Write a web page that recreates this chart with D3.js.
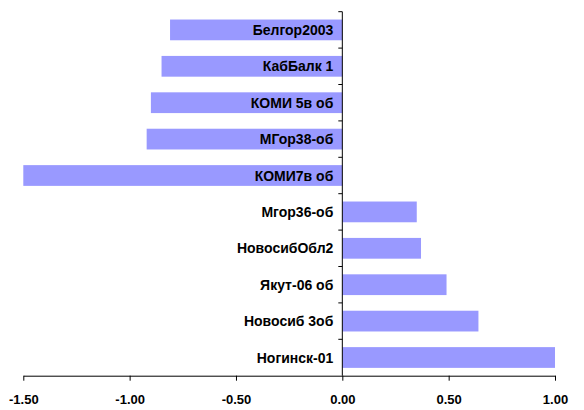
<!DOCTYPE html>
<html>
<meta charset="utf-8">
<head>
    <title>Bar chart</title>
</head>
<style>
    body { margin: 0; background: #fff; }
    text { font-family: "Liberation Sans", Arial, sans-serif; font-weight: bold; }
</style>
<script src="https://d3js.org/d3.v7.min.js"></script>
<body>
<div id="chart"></div>
<script>

// categories from top to bottom, with their values
var names = ["Белгор2003", "КабБалк 1", "КОМИ 5в об", "МГор38-об", "КОМИ7в об",
             "Мгор36-об", "НовосибОбл2", "Якут-06 об", "Новосиб 3об", "Ногинск-01"]
var values = [-0.81, -0.85, -0.90, -0.92, -1.50, 0.35, 0.37, 0.49, 0.64, 1.00]
var xTicks = [-1.5, -1.0, -0.5, 0, 0.5, 1.0]

var width = 584, height = 410
var margin = {top: 11.7, right: 29, bottom: 34.3, left: 23.3}

var svg = d3.select("#chart")
  .append("svg")
  .attr("width", width)
  .attr("height", height)

var x = d3.scaleLinear()
  .domain([-1.5, 1.0])
  .range([margin.left, width - margin.right])

var y = d3.scaleBand()
  .domain(names)
  .range([margin.top, height - margin.bottom])
  .paddingInner(0.43)
  .paddingOuter(0.215)

// bars
svg.selectAll("rect.bar")
  .data(values)
  .enter().append("rect")
  .attr("class", "bar")
  .attr("x", function(d) { return x(Math.min(0, d)) })
  .attr("width", function(d) { return Math.abs(x(d) - x(0)) })
  .attr("y", function(d, i) { return y(names[i]) })
  .attr("height", y.bandwidth())
  .style("fill", "#9999ff")

// x axis
var fmt = function(d) { return d3.format(".2f")(d).replace("−", "-") }
var xAxis = svg.append("g")
  .attr("transform", "translate(0," + (height - margin.bottom) + ")")
  .call(d3.axisBottom(x).tickValues(xTicks).tickFormat(fmt).tickSize(5).tickSizeOuter(0))
xAxis.select(".domain").attr("stroke", "#000")
xAxis.selectAll("text")
  .attr("dy", "1.55em")
  .style("font-size", "13px")
  .style("fill", "#000")

// y axis at zero, ticks between categories
var bounds = names.map(function(n) { return y(n) - y.step() * y.paddingInner() / 2 })
var yAxis = svg.append("g")
yAxis.append("line")
  .attr("x1", x(0)).attr("x2", x(0))
  .attr("y1", margin.top).attr("y2", height - margin.bottom)
  .attr("stroke", "#000")
yAxis.selectAll("line.tick")
  .data(bounds)
  .enter().append("line")
  .attr("class", "tick")
  .attr("x1", x(0) - 4).attr("x2", x(0))
  .attr("y1", function(d) { return d }).attr("y2", function(d) { return d })
  .attr("stroke", "#000")

// category labels, right aligned near the zero line
svg.selectAll("text.label")
  .data(names)
  .enter().append("text")
  .attr("class", "label")
  .attr("x", x(0) - 9)
  .attr("y", function(d) { return y(d) + y.bandwidth() / 2 })
  .attr("dy", "0.36em")
  .attr("text-anchor", "end")
  .style("font-size", "14px")
  .text(function(d) { return d })

</script>
</body>
</html>
